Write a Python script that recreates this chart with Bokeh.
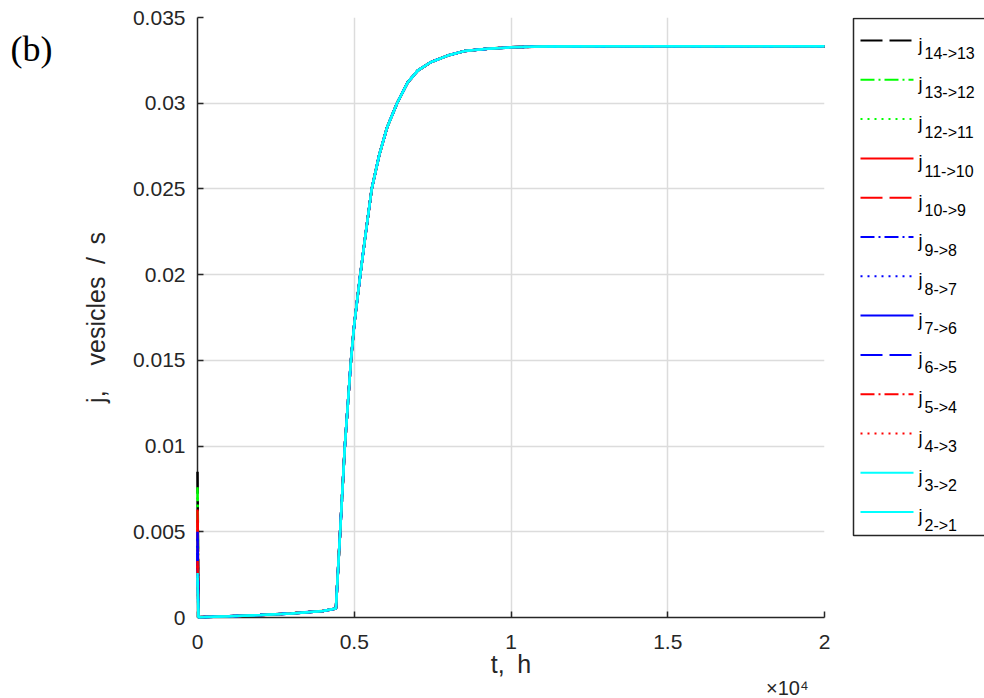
import numpy as np
from bokeh.plotting import figure
from bokeh.models import Range1d, FixedTicker, Title, CustomJSTickFormatter
from bokeh.layouts import row
from bokeh.embed import file_html
from bokeh.resources import INLINE
from bokeh.core.properties import value

# ---------------- data ----------------
# time (h); first point is t=0 where each flux has its own initial value
t_h = [0, 30, 1000, 2000, 3000, 4000, 4415, 4550, 4700, 4895, 5000, 5193,
       5350, 5557, 5800, 6050, 6366, 6700, 7024, 7448, 7980, 8510, 9257,
       10000, 11000, 13000, 16000, 20000]
# common flux profile after the initial transient (vesicles / s)
j_after = [0.00002, 0.00007, 0.00014, 0.00024, 0.00038, 0.00052, 0.0050,
           0.0100, 0.0150, 0.0171, 0.0200, 0.0222, 0.0250, 0.0270, 0.0286,
           0.0300, 0.0312, 0.0319, 0.0324, 0.03278, 0.03304, 0.03318,
           0.03326, 0.03331, 0.03333, 0.03333, 0.03333]

subs = ["14->13", "13->12", "12->11", "11->10", "10->9", "9->8", "8->7",
        "7->6", "6->5", "5->4", "4->3", "3->2", "2->1"]
j_initial = [0.0085, 0.0076, 0.0070, 0.0063, 0.0057, 0.0050, 0.0046,
             0.0042, 0.0038, 0.0033, 0.0030, 0.0026, 0.0023]
colors = ["#000000", "#00ff00", "#00ff00", "#ff0000", "#ff0000", "#0000ff",
          "#0000ff", "#0000ff", "#0000ff", "#ff0000", "#ff0000", "#00ffff",
          "#00ffff"]
dashes = ["22 7", "14 4 2 4", "2 5", "solid", "22 7", "14 4 2 4", "2 5",
          "solid", "22 7", "14 4 2 4", "2 5", "solid", "solid"]

x_ticks = [0, 5000, 10000, 15000, 20000]
y_ticks = [0, 0.005, 0.01, 0.015, 0.02, 0.025, 0.03, 0.035]

AX = "#262626"
FONT = "Liberation Sans"

TOP, FH, BOT = 17, 600, 78
LEFT_W = 60

# ---------------- left strip with the panel tag ----------------
ls = figure(frame_width=LEFT_W, frame_height=FH, min_border_left=0,
            min_border_right=0, min_border_top=TOP, min_border_bottom=BOT,
            x_range=Range1d(0, LEFT_W), y_range=Range1d(TOP + FH, TOP),
            x_axis_type=None, y_axis_type=None,
            output_backend="svg", toolbar_location=None)
ls.outline_line_color = None
ls.grid.visible = False
ls.text(x=[10], y=[48], text=["(b)"], text_font=value("Liberation Serif"),
        text_font_size="36px", text_color="black", text_baseline="alphabetic")

# ---------------- main plot ----------------
p = figure(frame_width=627, frame_height=FH,
           min_border_left=197 - LEFT_W, min_border_right=26,
           min_border_top=TOP, min_border_bottom=BOT,
           x_range=Range1d(0, 20000), y_range=Range1d(0, 0.035),
           output_backend="svg", toolbar_location=None)
p.outline_line_color = None
p.background_fill_color = "white"

p.xaxis.ticker = FixedTicker(ticks=x_ticks)
p.yaxis.ticker = FixedTicker(ticks=y_ticks)
p.xaxis.formatter = CustomJSTickFormatter(code="return String(tick/10000);")
p.yaxis.formatter = CustomJSTickFormatter(code="return String(Math.round(tick*1000)/1000);")

for ax in (p.xaxis, p.yaxis):
    ax.axis_line_color = AX
    ax.axis_line_width = 1.5
    ax.major_tick_line_color = AX
    ax.major_tick_line_width = 1.5
    ax.major_tick_in = 6
    ax.major_tick_out = 0
    ax.minor_tick_line_color = None
    ax.major_label_text_font = FONT
    ax.major_label_text_font_size = "21px"
    ax.major_label_text_color = AX
    ax.axis_label_text_font = FONT
    ax.axis_label_text_font_size = "25px"
    ax.axis_label_text_font_style = "normal"
    ax.axis_label_text_color = AX

p.xaxis.axis_label = "t,\u2002h"
p.yaxis.axis_label = "j,\u2002\u2002vesicles\u2002/\u2002s"
p.xaxis.major_label_standoff = 17
p.yaxis.major_label_standoff = 12
p.xaxis.axis_label_standoff = -2
p.yaxis.axis_label_standoff = 20

p.grid.grid_line_color = "#dcdcdc"
p.grid.grid_line_width = 1.5

for j0, c, d in zip(j_initial, colors, dashes):
    p.line(t_h, [j0] + j_after, line_color=c, line_dash=d, line_width=2.5,
           level="overlay")

p.add_layout(Title(text="\u00d710\u2074", align="right", offset=16, standoff=-12,
                   text_font=FONT, text_font_size="20px",
                   text_font_style="normal", text_color=AX), "below")

# ---------------- legend panel (coordinates = page pixels) ----------------
LX0, LW = 850, 134
lg = figure(frame_width=LW, frame_height=FH, min_border_left=0,
            min_border_right=0, min_border_top=TOP, min_border_bottom=BOT,
            x_range=Range1d(LX0, LX0 + LW), y_range=Range1d(TOP + FH, TOP),
            x_axis_type=None, y_axis_type=None,
            output_backend="svg", toolbar_location=None)
lg.outline_line_color = None
lg.grid.visible = False
lg.quad(left=853, right=LX0 + LW + 20, top=18, bottom=535, fill_color="white",
        line_color=AX, line_width=1.5)

row_y = [40 + 39.3 * i for i in range(len(subs))]
for yy, c, d in zip(row_y, colors, dashes):
    lg.segment(x0=860, x1=913, y0=yy, y1=yy, line_color=c, line_dash=d,
               line_width=2)
lg.text(x=[918] * len(subs), y=[yy + 4 for yy in row_y], text=["j"] * len(subs),
        text_font=value(FONT), text_font_size="18px", text_color="black",
        text_baseline="alphabetic")
lg.text(x=[924] * len(subs), y=[yy + 13 for yy in row_y], text=subs,
        text_font=value(FONT), text_font_size="16px", text_color="black",
        text_baseline="alphabetic")

layout = row(ls, p, lg, spacing=0)
open("out.html", "w").write(file_html(layout, INLINE))
